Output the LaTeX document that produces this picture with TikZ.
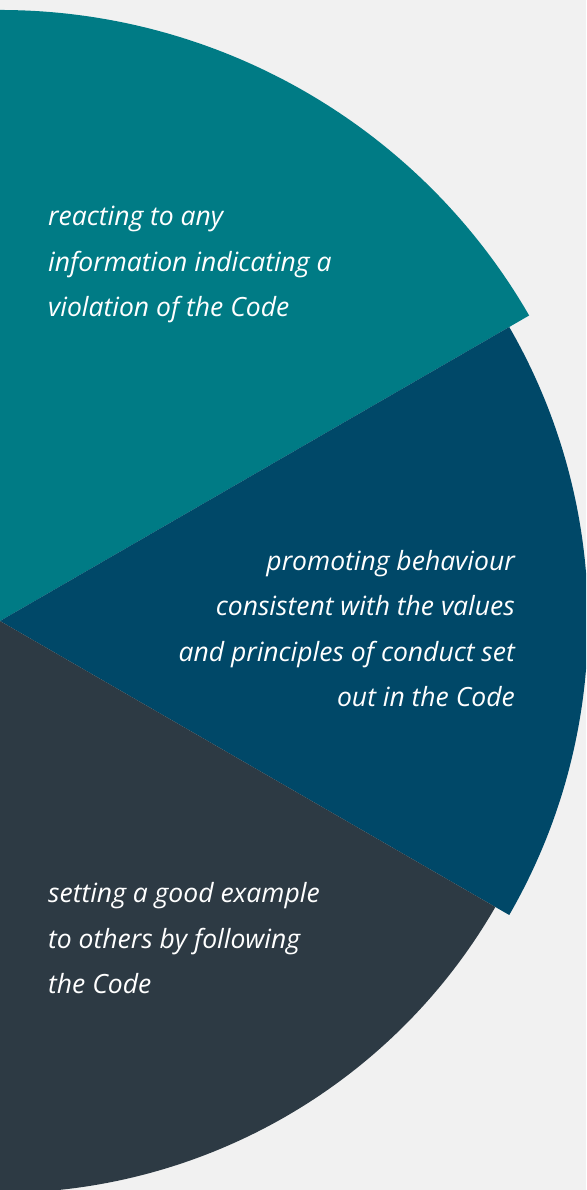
\documentclass[tikz,border=0pt]{standalone}
\usepackage{fontspec}
\setmainfont{Open Sans}
\definecolor{bgc}{RGB}{241,241,241}
\definecolor{tealc}{RGB}{0,123,133}
\definecolor{navyc}{RGB}{0,72,104}
\definecolor{greyc}{RGB}{45,58,68}
\tikzset{
  wedge/.style={draw=none},
  label text/.style={text=white, inner sep=0pt, font=\fontsize{26.5}{45.5}\selectfont\itshape}
}
\begin{document}
\begin{tikzpicture}[x=1pt,y=1pt]
\fill[bgc] (0,0) rectangle (586,1190);
\useasboundingbox (0,0) rectangle (586,1190);
\clip (0,0) rectangle (586,1190);
\coordinate (C) at (0,569);
\fill[tealc, wedge] (C) -- ++(90:611) arc[start angle=90, end angle=30, radius=611] -- cycle;
\fill[navyc, wedge] (C) -- ++(30:588) arc[start angle=30, end angle=-30, radius=588] -- cycle;
\fill[greyc, wedge] (C) -- ++(-30:572) arc[start angle=-30, end angle=-90, radius=572] -- cycle;
\node[label text, anchor=base west, align=left] (t1) at (48,873) {reacting to any\\information indicating a\\violation of the Code};
\node[label text, anchor=base east, align=right] (t2) at (515,483) {promoting behaviour\\consistent with the values\\and principles of conduct set\\out in the Code};
\node[label text, anchor=base west, align=left] (t3) at (48,196) {setting a good example\\to others by following\\the Code};
\end{tikzpicture}
\end{document}
